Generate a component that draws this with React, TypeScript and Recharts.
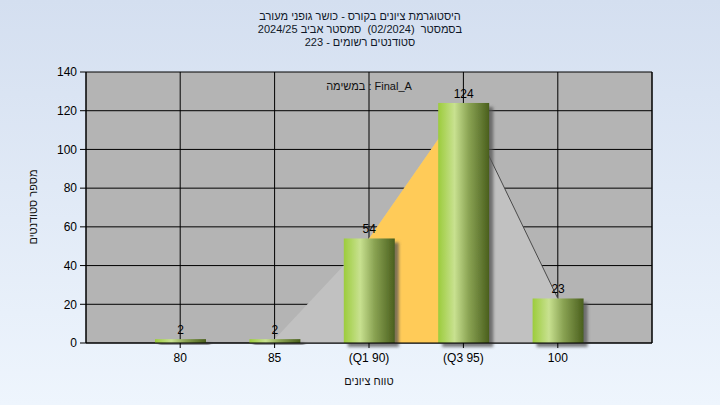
import {
  Area, Bar, CartesianGrid, ComposedChart, LabelList, XAxis, YAxis,
} from "recharts";

const GRADES = ["80", "85", "(Q1 90)", "(Q3 95)", "100"];
const COUNTS = [2, 2, 54, 124, 23];
const Y_TICKS = [0, 20, 40, 60, 80, 100, 120, 140];
const Q1 = 2, Q3 = 3;   // indexes of the quartile buckets
const TITLE = [
  "היסטוגרמת ציונים בקורס - כושר גופני מעורב",
  "בסמסטר  (02/2024)  סמסטר אביב 2024/25",
  "סטודנטים רשומים - 223",
];
const TASK = "במשימה : Final_A";
const X_LABEL = "טווח ציונים";
const Y_LABEL = "מספר סטודנטים";

const FONT = "'Liberation Sans', Arial, sans-serif";
const TICK = { fill: "#000", fontSize: 12, fontFamily: FONT };

const data = GRADES.map((g, i) => ({
  grade: g,
  count: COUNTS[i],
  curve: i >= 1 ? COUNTS[i] : null,
  iqr: i >= Q1 && i <= Q3 ? COUNTS[i] : null,
  tail: i >= Q3 ? COUNTS[i] : null,
}));

const BarShape = (p: any) => (
  p.height > 0
    ? <rect x={p.x} y={p.y} width={p.width} height={p.height} fill="url(#barGrad)" filter="url(#barShadow)" />
    : null
);

export default function App() {
  return (
    <div style={{
      position: "relative", width: 720, height: 405, fontFamily: FONT, color: "#111",
      background: "linear-gradient(#d4dff0, #eef5fd)",
    }}>
      <style>{"body{margin:0}"}</style>
      <div dir="rtl" style={{
        position: "absolute", top: 10, left: 0, width: 720, textAlign: "center",
        fontSize: 11, lineHeight: "13px", color: "#101828",
      }}>
        {TITLE.map(t => <div key={t} style={{ whiteSpace: "pre" }}>{t}</div>)}
      </div>
      <ComposedChart width={720} height={405} data={data}
        margin={{ top: 72, right: 8, bottom: 32, left: 26 }}>
        <defs>
          <linearGradient id="barGrad" x1="0" y1="0" x2="1" y2="0">
            <stop offset="0%" stopColor="#9ccc3c" />
            <stop offset="32%" stopColor="#c8e190" />
            <stop offset="60%" stopColor="#8aa353" />
            <stop offset="100%" stopColor="#4a5f1d" />
          </linearGradient>
          <filter id="barShadow" x="-20%" y="-20%" width="150%" height="150%">
            <feDropShadow dx="4" dy="4" stdDeviation="1.5" floodColor="#555" floodOpacity="0.75" />
          </filter>
        </defs>
        <CartesianGrid yAxisId="left" fill="#b4b4b4" stroke="#000" strokeOpacity={1} />
        <XAxis dataKey="grade" padding={{ left: 47, right: 47 }} height={30}
          stroke="#000" tick={TICK} tickSize={5} tickMargin={5} />
        <YAxis yAxisId="left" domain={[0, 140]} ticks={Y_TICKS} width={60}
          stroke="#000" tick={TICK} tickSize={6} tickMargin={3} />
        <YAxis yAxisId="right" orientation="right" domain={[0, 140]} ticks={Y_TICKS} width={60}
          stroke="#000" tick={TICK} tickSize={7} tickMargin={1} />
        <Area yAxisId="left" type="linear" dataKey="curve" stroke="none" fill="#c1c1c1" fillOpacity={1}
          isAnimationActive={false} />
        <Area yAxisId="left" type="linear" dataKey="iqr" stroke="none" fill="#ffcb58" fillOpacity={1}
          isAnimationActive={false} />
        <Area yAxisId="left" type="linear" dataKey="tail" stroke="#4a4a4a" strokeWidth={1} fill="none"
          dot={false} activeDot={false} isAnimationActive={false} />
        <Bar yAxisId="left" dataKey="count" barSize={51} shape={BarShape} isAnimationActive={false}>
          <LabelList dataKey="count" position="top" offset={5} fill="#000" fontSize={12} fontFamily={FONT} />
        </Bar>
      </ComposedChart>
      <div style={{ position: "absolute", left: 369, top: 86, transform: "translate(-50%,-50%)", fontSize: 11, whiteSpace: "nowrap" }}>
        {TASK}
      </div>
      <div dir="rtl" style={{ position: "absolute", left: 369, top: 381, transform: "translate(-50%,-50%)", fontSize: 11, whiteSpace: "nowrap" }}>
        {X_LABEL}
      </div>
      <div dir="rtl" style={{ position: "absolute", left: 33, top: 207, transform: "translate(-50%,-50%) rotate(-90deg)", fontSize: 11, whiteSpace: "nowrap" }}>
        {Y_LABEL}
      </div>
    </div>
  );
}
